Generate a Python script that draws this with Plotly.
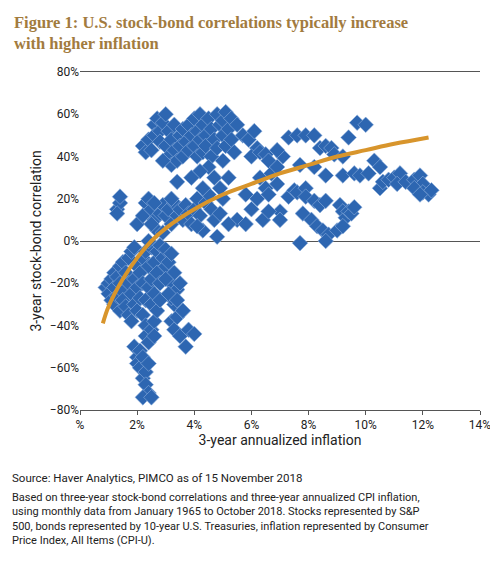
import plotly.graph_objects as go

# scatter points: (inflation %, correlation %)
pts_low = [(0.9,-22),(1.0,-20),(1.0,-25),(1.1,-18),(1.1,-28),(1.2,-15),(1.2,-22),(1.2,-30),(1.3,-17),(1.3,-26),
           (1.4,-12),(1.4,-20),(1.4,-33),(1.5,-10),(1.5,-24),(1.5,-28),(1.6,-15),(1.6,-31),(1.7,-8),(1.7,-20),
           (1.7,-35),(1.8,-5),(1.8,-25),(1.8,-38),(1.9,-3),(1.9,-18),(1.9,-30),(2.0,-12),(2.0,-22),(2.0,-33),
           (2.1,-15),(2.1,-27),(2.2,-8),(2.2,-20),(2.2,-35),(2.3,-5),(2.3,-28),(2.3,-40),(2.4,-12),(2.4,-22),
           (2.5,-3),(2.5,-18),(2.5,-30),(2.6,-10),(2.6,-25),(2.7,-5),(2.7,-15),(2.8,-2),(2.8,-20),(2.9,-8),
           (3.0,-4),(3.0,-12),(3.1,-10),(3.2,-6),(3.2,-20),(3.3,-15),(3.3,-30),(3.4,-23),(3.2,-27),(3.0,-18),
           (1.9,-50),(2.0,-55),(2.0,-58),(2.1,-52),(2.1,-60),(2.2,-55),(2.2,-65),(2.3,-62),(2.3,-68),(2.4,-58),
           (2.4,-72),(2.2,-74),(2.5,-74),(2.3,-45),(2.4,-48),(2.5,-42),(2.6,-38),(2.6,-45),(2.7,-33),(2.8,-28),
           (3.2,-38),(3.3,-42),(3.5,-45),(3.7,-50),(3.8,-42),(4.0,-44),(3.4,-36),(3.6,-33),
           (3.1,-25),(3.4,-28),(3.5,-20),(3.6,-33)]
pts_mid = [(1.3,15),(1.4,18),(1.4,21),(1.3,13),(2.0,8),(2.2,12),(2.3,18),(2.4,20),(2.5,15),(2.6,10),
           (2.7,5),(2.8,13),(2.9,17),(3.0,12),(3.1,15),(3.2,8),(3.3,18),(3.4,12),(3.5,15),(3.6,10),
           (3.7,17),(3.8,13),(3.9,8),(4.0,15),(4.1,20),(4.2,12),(4.3,5),(4.4,18),(4.5,22),(4.6,15),
           (4.7,10),(4.8,2),(4.9,13),(5.0,20),(4.3,25),(4.1,7),(3.2,20),(2.6,18),(2.9,4),(2.4,0),(2.5,8)]
pts_top = [(2.2,45),(2.3,42),(2.4,48),(2.5,43),(2.6,55),(2.6,50),(2.7,58),(2.8,52),(2.8,47),(2.9,56),
           (3.0,60),(3.0,45),(3.1,40),(3.1,52),(3.2,36),(3.2,48),(3.3,55),(3.3,43),(3.4,38),(3.5,50),
           (3.5,45),(3.6,53),(3.6,40),(3.7,47),(3.8,55),(3.8,43),(3.9,50),(4.0,58),(4.0,45),(4.1,52),
           (4.1,40),(4.2,60),(4.2,48),(4.3,55),(4.3,42),(4.4,50),(4.4,45),(4.5,58),(4.6,53),(4.6,40),
           (4.7,48),(4.8,60),(4.8,44),(4.9,55),(5.0,50),(5.0,57),(5.1,45),(5.1,61),(5.2,53),(5.3,48),
           (5.3,58),(5.4,42),(4.5,35),(5.0,38),(4.2,33),(3.9,30),(2.9,38),(3.4,28),(4.7,30),(5.2,30),(4.9,25)]
pts_right = [(5.5,55),(5.7,50),(5.9,48),(6.1,52),(6.2,44),(6.0,40),(6.3,42),(6.5,41),(6.6,38),(6.3,30),
             (6.5,25),(6.2,20),(6.0,15),(5.8,22),(6.4,10),(5.5,10),(5.2,8),(5.8,8),(6.7,32),(6.9,27),
             (7.3,49),(7.6,50),(7.9,50),(8.2,50),(8.4,44),(8.6,45),(8.8,44),(8.9,41),(9.2,40),(9.4,49),
             (9.7,56),(10.0,55),(10.3,38),(10.5,35),(7.7,36),(8.2,35),(8.6,31),(9.2,31),(9.6,32),(9.8,31),
             (10.1,32),(10.5,25),(10.6,28),(10.8,29),(11.0,30),(11.2,32),(11.1,27),(11.4,28),(11.7,29),
             (11.9,31),(12.0,27),(11.7,25),(12.0,23),(12.2,22),(12.3,24),(11.9,22),
             (7.3,21),(7.5,24),(7.6,23),(7.9,25),(7.9,21),(8.2,19),(8.4,17),(8.6,19),(7.8,13),(8.1,10),
             (8.3,7),(8.5,5),(8.7,3),(8.6,0),(9.0,5),(9.1,17),(9.2,14),(9.3,11),(9.4,14),(9.5,13),
             (9.6,16),(9.2,7),(7.7,-1),(7.0,14),(7.0,10),(6.6,14),(6.6,22),(7.1,40),(6.9,43),(6.9,35)]

all_pts = pts_low + pts_mid + pts_top + pts_right
infl = [p[0] for p in all_pts]
corr = [p[1] for p in all_pts]

# trend curve
trend_x = [0.8, 1.0, 1.5, 2.0, 2.5, 3.0, 4.0, 5.0, 6.0, 7.0, 8.0, 9.0, 10.0, 11.0, 12.2]
trend_y = [-39, -31, -18, -8, 0, 6, 15, 22, 27, 32, 36, 40, 43, 46, 49]

xtick_vals = [0, 2, 4, 6, 8, 10, 12, 14]
xtick_text = ['%', '2%', '4%', '6%', '8%', '10%', '12%', '14%']

fig = go.Figure()
fig.add_trace(go.Scatter(x=infl, y=corr, mode='markers',
                         marker=dict(symbol='diamond', size=12, color='#2d66b1',
                                     line=dict(color='#8fb0dd', width=0.6)),
                         showlegend=False))
fig.add_trace(go.Scatter(x=trend_x, y=trend_y, mode='lines',
                         line=dict(color='#d8952c', width=4, shape='spline'),
                         showlegend=False))

font_txt = "Roboto, sans-serif"
fig.update_layout(
    width=498, height=563,
    margin=dict(l=72, r=26, t=64, b=161),
    plot_bgcolor='white', paper_bgcolor='white',
    font=dict(family=font_txt, size=12, color='#222'),
    xaxis=dict(range=[0, 14], tickvals=xtick_vals, ticktext=xtick_text, showgrid=False,
               zeroline=False, showline=True, linecolor='#555', mirror=True,
               ticks='outside', ticklen=4, tickcolor='#555',
               title=dict(text='3-year annualized inflation', standoff=2)),
    yaxis=dict(range=[-80, 80], dtick=20, ticksuffix='%', showgrid=False,
               zeroline=True, zerolinecolor='#555', zerolinewidth=1,
               title=dict(text='3-year stock-bond correlation', standoff=4)),
    annotations=[
        dict(x=-0.17, y=1.18, xref='paper', yref='paper', xanchor='left', yanchor='top',
             showarrow=False, align='left',
             font=dict(family="Liberation Serif, serif", size=16.5, color='#a27b3e', weight='bold'),
             text="Figure 1: U.S. stock-bond correlations typically increase<br>with higher inflation"),
        dict(x=-0.175, y=-0.175, xref='paper', yref='paper', xanchor='left', yanchor='top',
             showarrow=False, align='left', font=dict(size=11.5, family=font_txt),
             text="Source: Haver Analytics, PIMCO as of 15 November 2018"),
        dict(x=-0.175, y=-0.235, xref='paper', yref='paper', xanchor='left', yanchor='top',
             showarrow=False, align='left', font=dict(size=11, family=font_txt),
             text="Based on three-year stock-bond correlations and three-year annualized CPI inflation,<br>"
                  "using monthly data from January 1965 to October 2018. Stocks represented by S&P<br>"
                  "500, bonds represented by 10-year U.S. Treasuries, inflation represented by Consumer<br>"
                  "Price Index, All Items (CPI-U)."),
    ],
)

fig.write_html("out.html")
